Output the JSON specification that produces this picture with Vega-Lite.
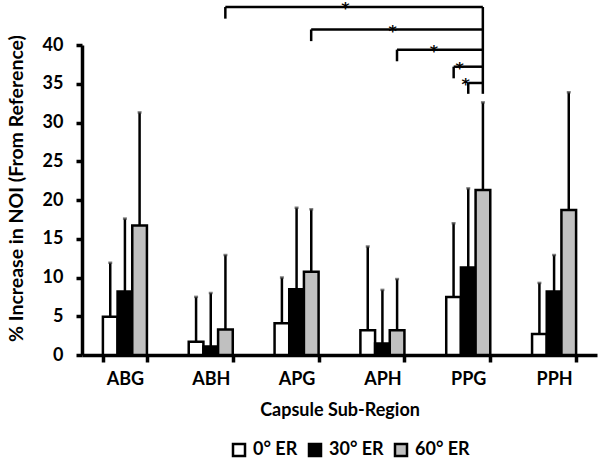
{
  "$schema": "https://vega.github.io/schema/vega-lite/v6.json",
  "width": 515,
  "height": 310,
  "autosize": {"type": "none"},
  "padding": {"left": 82, "top": 45, "right": 3, "bottom": 106},
  "background": "white",
  "config": {
    "view": {"stroke": null},
    "font": "Lato",
    "axis": {"labelFont": "Lato", "titleFont": "Lato", "labelFontWeight": "bold", "titleFontWeight": "bold", "labelColor": "black", "titleColor": "black", "domainColor": "black", "tickColor": "black", "grid": false}
  },
  "datasets": {
    "bars": [
      {"region": "ABG", "er": "0° ER", "value": 4.95, "upper": 11.9},
      {"region": "ABG", "er": "30° ER", "value": 8.2, "upper": 17.6},
      {"region": "ABG", "er": "60° ER", "value": 16.7, "upper": 31.3},
      {"region": "ABH", "er": "0° ER", "value": 1.7, "upper": 7.5},
      {"region": "ABH", "er": "30° ER", "value": 1.1, "upper": 8.0},
      {"region": "ABH", "er": "60° ER", "value": 3.3, "upper": 12.9},
      {"region": "APG", "er": "0° ER", "value": 4.1, "upper": 10.0},
      {"region": "APG", "er": "30° ER", "value": 8.5, "upper": 19.0},
      {"region": "APG", "er": "60° ER", "value": 10.75, "upper": 18.8},
      {"region": "APH", "er": "0° ER", "value": 3.2, "upper": 14.0},
      {"region": "APH", "er": "30° ER", "value": 1.5, "upper": 8.4},
      {"region": "APH", "er": "60° ER", "value": 3.2, "upper": 9.8},
      {"region": "PPG", "er": "0° ER", "value": 7.5, "upper": 17.0},
      {"region": "PPG", "er": "30° ER", "value": 11.3, "upper": 21.5},
      {"region": "PPG", "er": "60° ER", "value": 21.3, "upper": 32.6},
      {"region": "PPH", "er": "0° ER", "value": 2.7, "upper": 9.3},
      {"region": "PPH", "er": "30° ER", "value": 8.2, "upper": 12.9},
      {"region": "PPH", "er": "60° ER", "value": 18.7, "upper": 33.9}
    ],
    "brackets": [
      {"x1": 1.67, "x2": 4.67, "y": 44.9, "yleg": 43.4, "star": 3.07},
      {"x1": 2.67, "x2": 4.67, "y": 42.0, "yleg": 40.5, "star": 3.62},
      {"x1": 3.67, "x2": 4.67, "y": 39.4, "yleg": 37.9, "star": 4.1},
      {"x1": 4.33, "x2": 4.67, "y": 37.2, "yleg": 35.7, "star": 4.4},
      {"x1": 4.5, "x2": 4.67, "y": 35.1, "yleg": 33.7, "star": 4.47}
    ],
    "rightleg": [{"x": 4.67, "ytop": 44.9, "ybot": 33.7}]
  },
  "layer": [
    {
      "data": {"name": "bars"},
      "encoding": {
        "x": {
          "field": "region", "type": "nominal", "sort": null,
          "scale": {"paddingInner": 0.487, "paddingOuter": 0.2435},
          "axis": {"title": "Capsule Sub-Region", "labelAngle": 0, "labelFontSize": 18, "titleFontSize": 18, "tickBand": "extent", "tickSize": 7, "tickWidth": 3.5, "domainWidth": 3.5, "labelPadding": 8, "titlePadding": 13}
        },
        "xOffset": {"field": "er", "type": "nominal", "sort": ["0° ER", "30° ER", "60° ER"], "scale": {"paddingInner": 0, "paddingOuter": 0}},
        "y": {
          "field": "value", "type": "quantitative",
          "scale": {"domain": [0, 40], "nice": false},
          "axis": {"title": "% Increase in NOI (From Reference)", "values": [0, 5, 10, 15, 20, 25, 30, 35, 40], "tickCount": 9, "labelOverlap": false, "labelFontSize": 18, "titleFontSize": 19.5, "tickSize": 6, "tickWidth": 3.5, "domainWidth": 3.5, "labelPadding": 13, "titlePadding": 16, "titleY": 143}
        }
      },
      "layer": [
        {
          "mark": {"type": "rule", "strokeWidth": 2.5, "color": "black"},
          "encoding": {"y2": {"field": "upper"}}
        },
        {
          "mark": {"type": "tick", "orient": "horizontal", "size": 4, "thickness": 2.5, "color": "#444"},
          "encoding": {"y": {"field": "upper", "type": "quantitative", "axis": {"title": "% Increase in NOI (From Reference)", "values": [0, 5, 10, 15, 20, 25, 30, 35, 40], "tickCount": 9, "labelOverlap": false, "labelFontSize": 18, "titleFontSize": 19.5, "tickSize": 6, "tickWidth": 3.5, "domainWidth": 3.5, "labelPadding": 13, "titlePadding": 16, "titleY": 143}}}
        },
        {
          "mark": {"type": "bar", "stroke": "black", "strokeWidth": 2.5},
          "encoding": {
            "fill": {
              "field": "er", "type": "nominal",
              "scale": {"domain": ["0° ER", "30° ER", "60° ER"], "range": ["white", "black", "#c0c0c0"]},
              "legend": {"title": null, "orient": "none", "legendX": 148, "legendY": 396, "direction": "horizontal", "symbolType": "square", "symbolSize": 144, "symbolStrokeColor": "black", "symbolStrokeWidth": 2.5, "labelFontSize": 18, "labelFontWeight": "bold", "labelFont": "Lato", "labelColor": "black", "columnPadding": 6, "labelOffset": 5}
            }
          }
        }
      ]
    },
    {
      "layer": [
        {
          "data": {"name": "brackets"},
          "mark": {"type": "rule", "strokeWidth": 2.5, "color": "black"},
          "encoding": {
            "x": {"field": "x1", "type": "quantitative", "scale": {"domain": [0, 6], "nice": false, "zero": false}, "axis": null},
            "x2": {"field": "x2"},
            "y": {"field": "y", "type": "quantitative", "axis": {"title": "% Increase in NOI (From Reference)", "values": [0, 5, 10, 15, 20, 25, 30, 35, 40], "tickCount": 9, "labelOverlap": false, "labelFontSize": 18, "titleFontSize": 19.5, "tickSize": 6, "tickWidth": 3.5, "domainWidth": 3.5, "labelPadding": 13, "titlePadding": 16, "titleY": 143}}
          }
        },
        {
          "data": {"name": "brackets"},
          "mark": {"type": "rule", "strokeWidth": 2.5, "color": "black"},
          "encoding": {
            "x": {"field": "x1", "type": "quantitative", "scale": {"domain": [0, 6], "nice": false, "zero": false}, "axis": null},
            "y": {"field": "y", "type": "quantitative"},
            "y2": {"field": "yleg"}
          }
        },
        {
          "data": {"name": "rightleg"},
          "mark": {"type": "rule", "strokeWidth": 2.5, "color": "black"},
          "encoding": {
            "x": {"field": "x", "type": "quantitative", "scale": {"domain": [0, 6], "nice": false, "zero": false}, "axis": null},
            "y": {"field": "ytop", "type": "quantitative"},
            "y2": {"field": "ybot"}
          }
        },
        {
          "data": {"name": "brackets"},
          "mark": {"type": "text", "text": "*", "fontSize": 16, "fontWeight": "bold", "font": "DejaVu Sans", "baseline": "middle", "dy": 2, "color": "black"},
          "encoding": {
            "x": {"field": "star", "type": "quantitative", "scale": {"domain": [0, 6], "nice": false, "zero": false}, "axis": null},
            "y": {"field": "y", "type": "quantitative"}
          }
        }
      ]
    }
  ],
  "resolve": {"scale": {"x": "independent"}, "axis": {"x": "independent"}}
}
